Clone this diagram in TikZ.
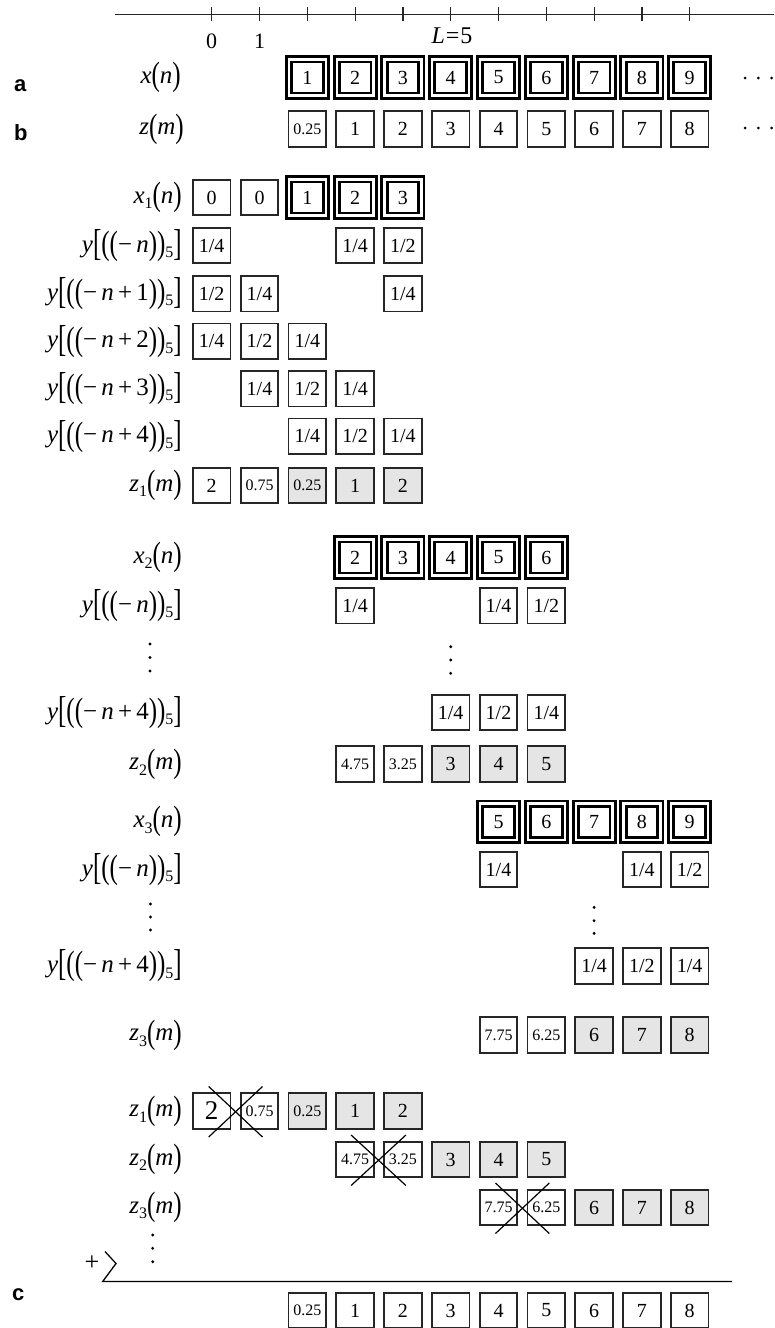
\documentclass[tikz,border=0pt]{standalone}
\usepackage{fontspec}
\setmainfont{Liberation Serif}
\newfontfamily\labsf{Liberation Sans}
\usepackage{graphicx}
\usetikzlibrary{calc}
\newcommand{\cX}[1]{211.7+47.8*#1}
\newcommand{\myLP}{\raisebox{-2.3pt}{\scalebox{1}[1.35]{(}}}
\newcommand{\myRP}{\raisebox{-2.3pt}{\scalebox{1}[1.35]{)}}}
\newcommand{\myLB}{\raisebox{-3.4pt}{\scalebox{1}[1.5]{[}}}
\newcommand{\myRB}{\raisebox{-3.4pt}{\scalebox{1}[1.5]{]}}}
\newcommand{\mySub}[1]{\raisebox{-5.5pt}{\fontsize{16}{16}\selectfont #1}}
\newcommand{\xlab}[1]{\textit{x}#1\myLP\textit{n}\myRP}
\newcommand{\zlab}[1]{\textit{z}#1\myLP\textit{m}\myRP}
\newcommand{\ylab}[1]{\textit{y}\myLB\myLP\myLP−\,\textit{n}#1\myRP\myRP\mySub{5}\myRB}
\begin{document}
\begin{tikzpicture}[x=1pt,y=-1pt,
  sbox/.style={draw=black!85, line width=1.8pt, minimum width=37.5pt, minimum height=35.5pt, inner sep=0pt, font=\fontsize{20}{20}\selectfont},
  gbox/.style={sbox, fill=black!10},
  dbox/.style={draw=black, double=white, line width=2.9pt, double distance=2.3pt, minimum width=36.9pt, minimum height=36.2pt, inner sep=0pt, font=\fontsize{20}{20}\selectfont},
  sm/.style={font=\fontsize{16}{16}\selectfont},
  big/.style={font=\fontsize{27}{27}\selectfont},
  lab/.style={anchor=east, inner sep=0pt, font=\fontsize{25}{25}\selectfont},
  tick/.style={anchor=base, inner sep=0pt, font=\fontsize{22}{22}\selectfont},
  panel/.style={anchor=base west, inner sep=0pt, font=\labsf\bfseries\fontsize{22}{22}\selectfont},
  axis/.style={line width=1.2pt, black!85},
  cross/.style={line width=1.2pt, black},
  sumline/.style={line width=1.3pt, black}
]
\useasboundingbox (0,0) rectangle (774,1328);

% ---- axis ----
\coordinate (axL) at (115,14.3);
\coordinate (axR) at (774,14.3);
\draw[axis] (axL) -- (axR);
\foreach \k in {0,...,10} {\draw[axis] (\cX{\k},7.3) -- (\cX{\k},20.7);}
\node[tick] (t0) at (\cX{0},48.3) {0};
\node[tick] (t1) at (\cX{1},48.3) {1};
\node[tick, font=\fontsize{24}{24}\selectfont] (tL) at (452,43.3) {\textit{L}\kern1pt=\kern1pt5};

% ---- panel letters ----
\node[panel] (pa) at (14,91) {a};
\node[panel] (pb) at (14,140) {b};
\node[panel] (pc) at (12,1300) {c};

% ---- row a ----
\node[lab] (lxa) at (181,77.5) {\xlab{}};
\foreach \v [count=\i from 2] in {1,...,9} \node[dbox] (a\i) at (\cX{\i},77.5) {\v};
\foreach \x in {745,758.3,771.7} \fill (\x,78) circle (1.5);

% ---- row b ----
\node[lab] (lzb) at (184,129) {\zlab{}};
\node[sbox,sm] (b2) at (\cX{2},129) {0.25};
\foreach \v [count=\i from 3] in {1,...,8} \node[sbox] (b\i) at (\cX{\i},129) {\v};
\foreach \x in {745,758.3,771.7} \fill (\x,128) circle (1.5);

% ---- section 1 ----
\node[lab] (l1x) at (182,197.5) {\xlab{\mySub{1}}};
\node[sbox] (s1x0) at (\cX{0},197.5) {0};
\node[sbox] (s1x1) at (\cX{1},197.5) {0};
\node[dbox] (s1x2) at (\cX{2},197.5) {1};
\node[dbox] (s1x3) at (\cX{3},197.5) {2};
\node[dbox] (s1x4) at (\cX{4},197.5) {3};

\node[lab] (l1y0) at (182,245.5) {\ylab{}};
\node[sbox] (s1a0) at (\cX{0},245.5) {1/4};
\node[sbox] (s1a3) at (\cX{3},245.5) {1/4};
\node[sbox] (s1a4) at (\cX{4},245.5) {1/2};

\node[lab] (l1y1) at (182,293.8) {\ylab{\,+\,1}};
\node[sbox] (s1b0) at (\cX{0},293.8) {1/2};
\node[sbox] (s1b1) at (\cX{1},293.8) {1/4};
\node[sbox] (s1b4) at (\cX{4},293.8) {1/4};

\node[lab] (l1y2) at (182,341.3) {\ylab{\,+\,2}};
\node[sbox] (s1c0) at (\cX{0},341.3) {1/4};
\node[sbox] (s1c1) at (\cX{1},341.3) {1/2};
\node[sbox] (s1c2) at (\cX{2},341.3) {1/4};

\node[lab] (l1y3) at (182,388.8) {\ylab{\,+\,3}};
\node[sbox] (s1d1) at (\cX{1},388.8) {1/4};
\node[sbox] (s1d2) at (\cX{2},388.8) {1/2};
\node[sbox] (s1d3) at (\cX{3},388.8) {1/4};

\node[lab] (l1y4) at (182,436.2) {\ylab{\,+\,4}};
\node[sbox] (s1e2) at (\cX{2},436.2) {1/4};
\node[sbox] (s1e3) at (\cX{3},436.2) {1/2};
\node[sbox] (s1e4) at (\cX{4},436.2) {1/4};

\node[lab] (l1z) at (182,485.5) {\zlab{\mySub{1}}};
\node[sbox] (s1z0) at (\cX{0},485.5) {2};
\node[sbox,sm] (s1z1) at (\cX{1},485.5) {0.75};
\node[gbox,sm] (s1z2) at (\cX{2},485.5) {0.25};
\node[gbox] (s1z3) at (\cX{3},485.5) {1};
\node[gbox] (s1z4) at (\cX{4},485.5) {2};

% ---- section 2 ----
\node[lab] (l2x) at (182,557.5) {\xlab{\mySub{2}}};
\foreach \v [count=\i from 3] in {2,...,6} \node[dbox] (s2x\i) at (\cX{\i},557.5) {\v};

\node[lab] (l2y0) at (182,605.8) {\ylab{}};
\node[sbox] (s2a3) at (\cX{3},605.8) {1/4};
\node[sbox] (s2a6) at (\cX{6},605.8) {1/4};
\node[sbox] (s2a7) at (\cX{7},605.8) {1/2};

\foreach \y in {644,657.5,671} \fill (150,\y) circle (1.6);
\foreach \y in {646.7,660,673.3} \fill (\cX{5},\y) circle (1.6);

\node[lab] (l2y4) at (182,712.5) {\ylab{\,+\,4}};
\node[sbox] (s2e5) at (\cX{5},712.5) {1/4};
\node[sbox] (s2e6) at (\cX{6},712.5) {1/2};
\node[sbox] (s2e7) at (\cX{7},712.5) {1/4};

\node[lab] (l2z) at (182,764) {\zlab{\mySub{2}}};
\node[sbox,sm] (s2z3) at (\cX{3},764) {4.75};
\node[sbox,sm] (s2z4) at (\cX{4},764) {3.25};
\node[gbox] (s2z5) at (\cX{5},764) {3};
\node[gbox] (s2z6) at (\cX{6},764) {4};
\node[gbox] (s2z7) at (\cX{7},764) {5};

% ---- section 3 ----
\node[lab] (l3x) at (182,821.7) {\xlab{\mySub{3}}};
\foreach \v [count=\i from 6] in {5,...,9} \node[dbox] (s3x\i) at (\cX{\i},821.7) {\v};

\node[lab] (l3y0) at (182,869.5) {\ylab{}};
\node[sbox] (s3a6) at (\cX{6},869.5) {1/4};
\node[sbox] (s3a9) at (\cX{9},869.5) {1/4};
\node[sbox] (s3a10) at (\cX{10},869.5) {1/2};

\foreach \y in {904,917,930} \fill (150.5,\y) circle (1.6);
\foreach \y in {907.3,920.7,933.3} \fill (\cX{8},\y) circle (1.6);

\node[lab] (l3y4) at (182,966) {\ylab{\,+\,4}};
\node[sbox] (s3e8) at (\cX{8},966) {1/4};
\node[sbox] (s3e9) at (\cX{9},966) {1/2};
\node[sbox] (s3e10) at (\cX{10},966) {1/4};

\node[lab] (l3z) at (182,1035) {\zlab{\mySub{3}}};
\node[sbox,sm] (s3z6) at (\cX{6},1035) {7.75};
\node[sbox,sm] (s3z7) at (\cX{7},1035) {6.25};
\node[gbox] (s3z8) at (\cX{8},1035) {6};
\node[gbox] (s3z9) at (\cX{9},1035) {7};
\node[gbox] (s3z10) at (\cX{10},1035) {8};

% ---- section 4 (overlap-add) ----
\node[lab] (l4z1) at (182,1111) {\zlab{\mySub{1}}};
\node[sbox,big] (f1z0) at (\cX{0},1111) {2};
\node[sbox,sm] (f1z1) at (\cX{1},1111) {0.75};
\node[gbox,sm] (f1z2) at (\cX{2},1111) {0.25};
\node[gbox] (f1z3) at (\cX{3},1111) {1};
\node[gbox] (f1z4) at (\cX{4},1111) {2};
\draw[cross] ([shift={(-3,-24.5)}]f1z0.center) -- ([shift={(3,26)}]f1z1.center);
\draw[cross] ([shift={(-3,26)}]f1z0.center) -- ([shift={(3,-24.5)}]f1z1.center);

\node[lab] (l4z2) at (182,1159.5) {\zlab{\mySub{2}}};
\node[sbox,sm] (f2z3) at (\cX{3},1159.5) {4.75};
\node[sbox,sm] (f2z4) at (\cX{4},1159.5) {3.25};
\node[gbox] (f2z5) at (\cX{5},1159.5) {3};
\node[gbox] (f2z6) at (\cX{6},1159.5) {4};
\node[gbox] (f2z7) at (\cX{7},1159.5) {5};
\draw[cross] ([shift={(-4,-24.5)}]f2z3.center) -- ([shift={(3,26)}]f2z4.center);
\draw[cross] ([shift={(-4,26)}]f2z3.center) -- ([shift={(3,-24.5)}]f2z4.center);

\node[lab] (l4z3) at (182,1207.5) {\zlab{\mySub{3}}};
\node[sbox,sm] (f3z6) at (\cX{6},1207.5) {7.75};
\node[sbox,sm] (f3z7) at (\cX{7},1207.5) {6.25};
\node[gbox] (f3z8) at (\cX{8},1207.5) {6};
\node[gbox] (f3z9) at (\cX{9},1207.5) {7};
\node[gbox] (f3z10) at (\cX{10},1207.5) {8};
\draw[cross] ([shift={(-3,-24.5)}]f3z6.center) -- ([shift={(3,26)}]f3z7.center);
\draw[cross] ([shift={(-3,26)}]f3z6.center) -- ([shift={(3,-24.5)}]f3z7.center);

\foreach \y in {1235,1248.3,1261.7} \fill (152.7,\y) circle (1.6);

\node[font=\fontsize{26}{26}\selectfont, inner sep=0pt] (plus) at (92,1263) {+};
\coordinate (br1) at (105,1251.5);
\coordinate (br2) at (116,1263.5);
\coordinate (br3) at (102.7,1281.5);
\coordinate (br4) at (732,1281.5);
\draw[sumline, line join=miter] (br1) -- (br2) -- (br3) -- (br4);

% ---- result row ----
\node[sbox,sm] (r2) at (\cX{2},1310.5) {0.25};
\foreach \v [count=\i from 3] in {1,...,8} \node[sbox] (r\i) at (\cX{\i},1310.5) {\v};
\end{tikzpicture}
\end{document}
